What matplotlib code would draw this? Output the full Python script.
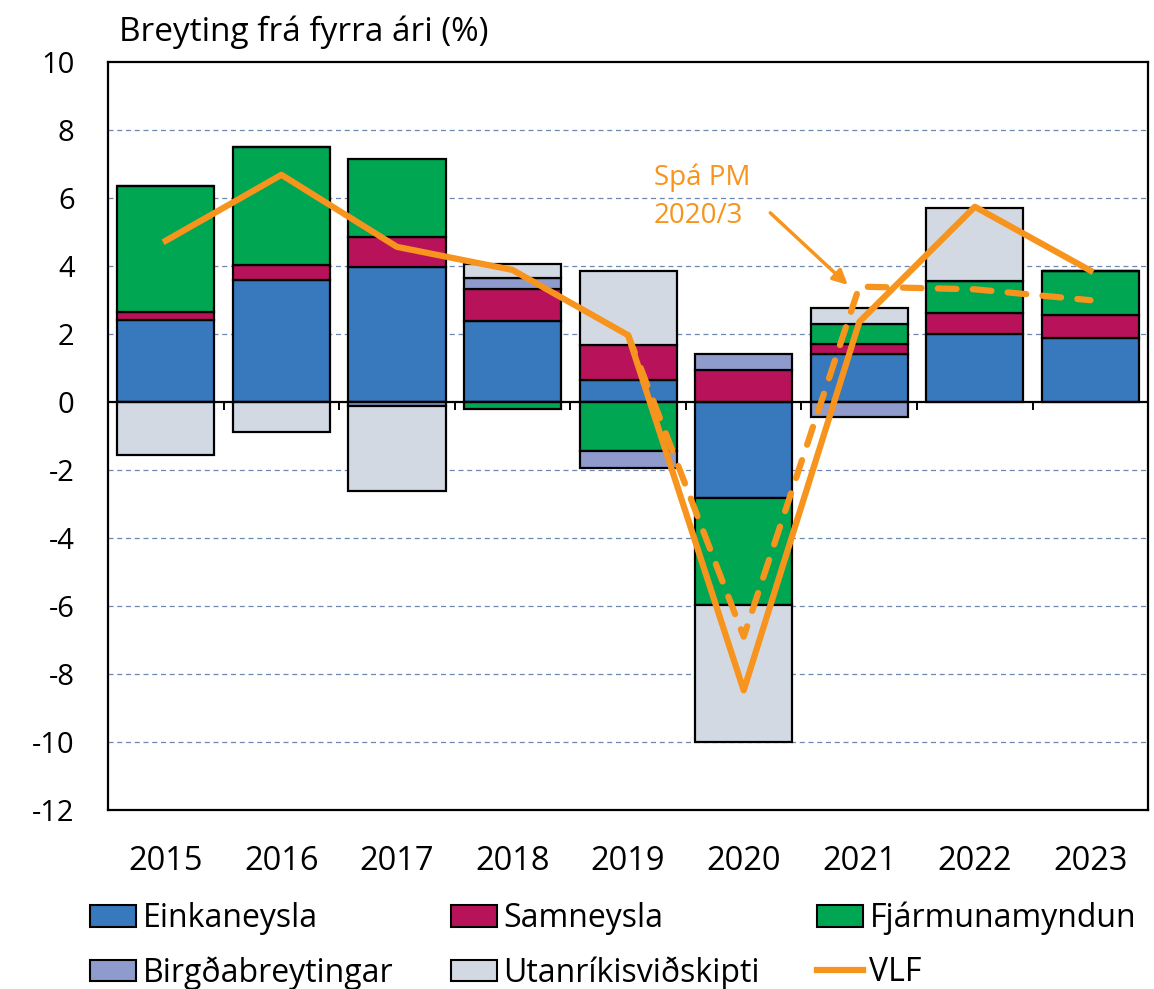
import numpy as np
import matplotlib
matplotlib.use("Agg")
import matplotlib.pyplot as plt
from matplotlib.patches import Patch
from matplotlib.lines import Line2D

plt.rcParams["font.family"] = ["Open Sans", "DejaVu Sans"]

years = ["2015", "2016", "2017", "2018", "2019", "2020", "2021", "2022", "2023"]
einkaneysla = [2.42, 3.59, 3.99, 2.39, 0.65, -2.82, 1.43, 2.00, 1.88]
samneysla = [0.22, 0.44, 0.86, 0.94, 1.02, 0.96, 0.28, 0.61, 0.67]
fjarmunamyndun = [3.72, 3.49, 2.30, -0.21, -1.43, -3.16, 0.59, 0.95, 1.32]
birgdabreytingar = [0.0, 0.0, -0.10, 0.31, -0.52, 0.47, -0.43, 0.0, 0.0]
utanrikis = [-1.56, -0.87, -2.51, 0.42, 2.20, -4.01, 0.46, 2.16, 0.0]
vlf = [4.75, 6.69, 4.57, 3.89, 1.97, -8.48, 2.36, 5.75, 3.87]
spa_years = ["2019", "2020", "2021", "2022", "2023"]
spa_pm = [1.97, -6.9, 3.40, 3.32, 3.00]

series = [
    ("Einkaneysla", einkaneysla, "#3878BD"),
    ("Samneysla", samneysla, "#B8135A"),
    ("Fjármunamyndun", fjarmunamyndun, "#00A651"),
    ("Birgðabreytingar", birgdabreytingar, "#8E9BCC"),
    ("Utanríkisviðskipti", utanrikis, "#D3D9E3"),
]
ORANGE = "#F7941D"

fig = plt.figure(figsize=(11.54, 9.89), dpi=100)
ax = fig.add_axes([0.0936, 0.181, 0.9014, 0.756])

x = np.arange(len(years))
pos_base = np.zeros(len(years))
neg_base = np.zeros(len(years))
for name, vals, col in series:
    v = np.array(vals)
    base = np.where(v >= 0, pos_base, neg_base)
    ax.bar(x, v, bottom=base, width=0.84, color=col, edgecolor="black",
           linewidth=1.6, zorder=3)
    pos_base += np.where(v >= 0, v, 0)
    neg_base += np.where(v < 0, v, 0)

ax.plot(x, vlf, color=ORANGE, lw=4.5, zorder=5)
xs = [years.index(y) for y in spa_years]
ax.plot(xs, spa_pm, color=ORANGE, lw=4.5, ls=(0, (3.0, 2.6)), zorder=5,
        dash_capstyle="round")

# gridlines, zero line with category ticks
for g in [-10, -8, -6, -4, -2, 2, 4, 6, 8]:
    ax.axhline(g, color="#6F88B0", lw=0.9, ls=(0, (4, 3)), zorder=1)
ax.axhline(0, color="black", lw=1.6, zorder=4)
ax.vlines(np.arange(len(years) - 1) + 0.5, -0.22, 0, color="black", lw=1.4, zorder=4)

# forecast annotation
ax.text(4.22, 6.04, "Spá PM\n2020/3", ha="left", va="center", color=ORANGE,
        fontsize=20, linespacing=1.5, zorder=6)
ax.annotate("", xy=(5.90, 3.45), xytext=(5.23, 5.57),
            arrowprops=dict(arrowstyle="-|>", color=ORANGE, lw=2.5,
                            mutation_scale=22, shrinkA=0, shrinkB=0), zorder=6)

ax.set_xlim(-0.5, len(years) - 0.5)
ax.set_ylim(-12, 10)
ax.set_yticks(range(-12, 11, 2))
ax.set_yticklabels([str(t) for t in range(-12, 11, 2)], fontsize=21)
ax.set_xticks(x)
ax.set_xticklabels(years, fontsize=23.5)
ax.tick_params(axis="both", length=0)
ax.tick_params(axis="y", pad=24)
ax.tick_params(axis="x", pad=25)
for s in ax.spines.values():
    s.set_linewidth(1.6)
    s.set_color("black")

fig.text(0.103, 0.967, "Breyting frá fyrra ári (%)", fontsize=24, va="center", ha="left")

handles = [Patch(facecolor=c, edgecolor="black", lw=1.5) for _, _, c in series]
handles.append(Line2D([], [], color=ORANGE, lw=4.5))
labels = [n for n, _, _ in series] + ["VLF"]
order = [0, 3, 1, 4, 2, 5]
fig.legend([handles[i] for i in order], [labels[i] for i in order],
           loc="upper left", bbox_to_anchor=(0.067, 0.101), ncol=3, frameon=False,
           fontsize=23, handlelength=1.44, handleheight=0.66, handletextpad=0.2,
           columnspacing=1.8, labelspacing=0.65, borderaxespad=0)

fig.savefig("out.png", dpi=100)
